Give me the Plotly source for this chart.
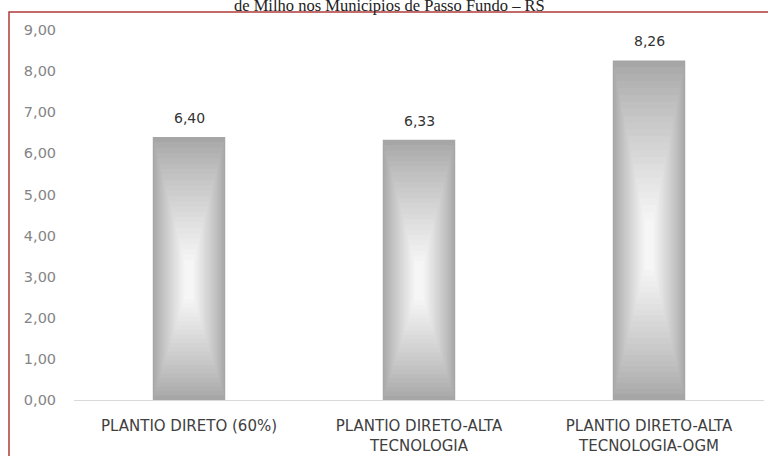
import plotly.graph_objects as go

categories = ["PLANTIO DIRETO (60%)", "PLANTIO DIRETO-ALTA<br>TECNOLOGIA", "PLANTIO DIRETO-ALTA<br>TECNOLOGIA-OGM"]
values = [6.40, 6.33, 8.26]
y_ticks = [0, 1, 2, 3, 4, 5, 6, 7, 8, 9]
title_text = "de Milho nos Municípios de Passo Fundo – RS"

W, H = 768, 456
L, R, T, B = 74, 4, 30, 56
pw, ph = W - L - R, H - T - B

def px_x(p):
    return (p - L) / pw

def px_y(p):
    return (H - B - p) / ph

fig = go.Figure()

# gradient-like bars: layered overlay bars, lighter toward the centre
n = 24
base_w = 0.315
for i in range(n):
    t = i / (n - 1)
    w = base_w * (1 - 0.88 * t)
    frac = 0.5 * 0.85 * t  # vertical inset fraction
    c0, c1 = 166, 246
    c = int(round(c0 + (c1 - c0) * (t ** 0.85)))
    col = f"rgb({c},{c},{c})"
    fig.add_trace(go.Bar(
        x=categories,
        y=[v * (1 - 2 * frac) if i else v for v in values],
        base=[v * frac * 0.9 for v in values] if i else None,
        width=w,
        marker=dict(color=col, line=dict(width=0)),
        hoverinfo="skip",
        showlegend=False,
    ))

for cat, v in zip(categories, values):
    fig.add_annotation(
        x=cat, y=v, text=f"{v:.2f}".replace(".", ","),
        showarrow=False, yanchor="bottom", yshift=9,
        font=dict(family="DejaVu Sans", size=14, color="#333333"),
    )

fig.add_annotation(
    xref="paper", yref="paper", x=px_x(389), y=px_y(5.0), xanchor="center", yanchor="middle",
    text=title_text, showarrow=False,
    font=dict(family="Liberation Serif", size=16.5, color="#222222"),
)

fig.add_shape(
    type="rect", xref="paper", yref="paper",
    x0=px_x(9), x1=px_x(775), y0=px_y(470), y1=px_y(12),
    line=dict(color="#b03a3a", width=1.5), fillcolor="rgba(0,0,0,0)", layer="above",
)

fig.update_layout(
    width=W, height=H,
    margin=dict(l=L, r=R, t=T, b=B),
    paper_bgcolor="white", plot_bgcolor="white",
    barmode="overlay",
    separators=",.",
    showlegend=False,
    xaxis=dict(
        showline=True, linecolor="#d9d9d9", linewidth=1,
        showgrid=False, zeroline=False, automargin=False,
        ticks="outside", ticklen=12, tickcolor="rgba(0,0,0,0)",
        tickfont=dict(family="DejaVu Sans", size=15, color="#404040"),
    ),
    yaxis=dict(
        range=[0, 9], tickvals=y_ticks, tickformat=".2f",
        showgrid=False, zeroline=False, showline=False, automargin=False,
        ticks="outside", ticklen=14, tickcolor="rgba(0,0,0,0)",
        tickfont=dict(family="DejaVu Sans", size=14.5, color="#858585"),
    ),
)

fig.write_html("out.html")
